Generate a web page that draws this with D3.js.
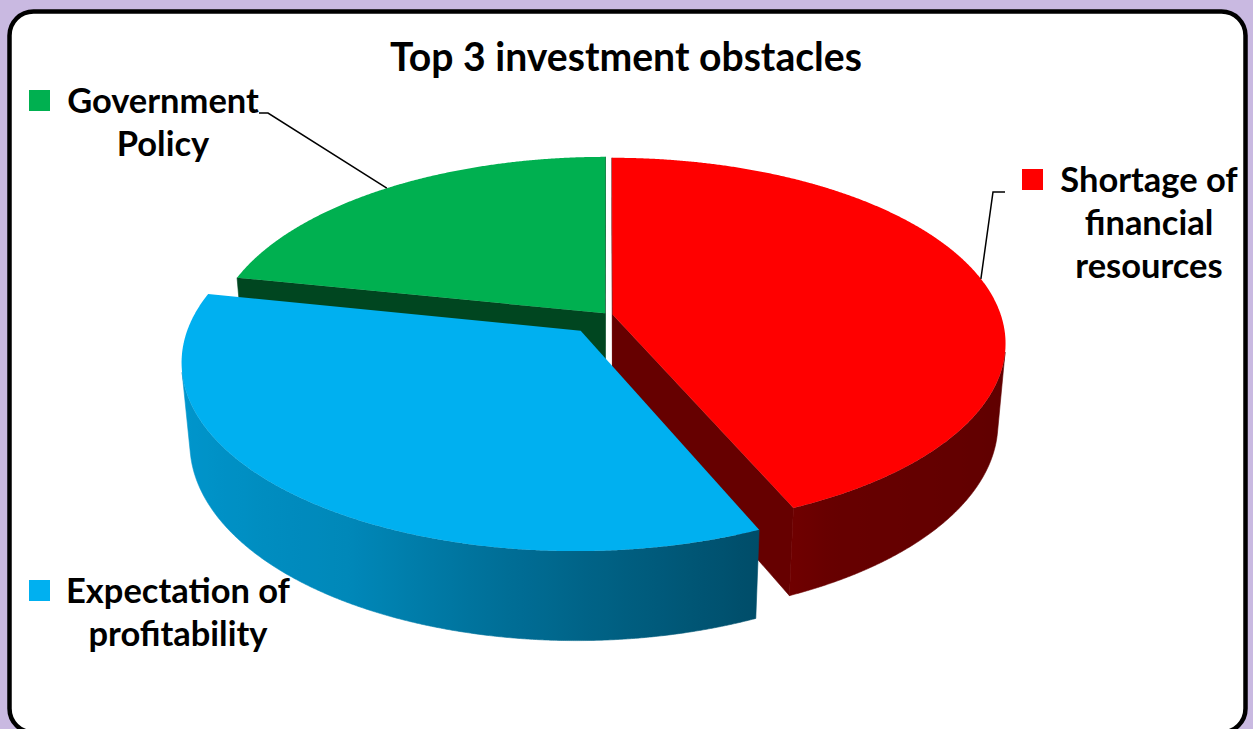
<!DOCTYPE html>
<html>
<head>
<meta charset="utf-8">
<script src="https://cdn.jsdelivr.net/npm/d3@7"></script>
<style>
  html, body { margin: 0; padding: 0; background: #c9b9e1; }
  svg { display: block; }
</style>
</head>
<body>
<svg id="chart" width="1253" height="729"></svg>
<script>
// ---- data ----
const title = "Top 3 investment obstacles";
const categories = ["Shortage of financial resources", "Expectation of profitability", "Government Policy"];
const values = [20, 16, 10];
const labelLines = [["Shortage of", "financial", "resources"], ["Expectation of", "profitability"], ["Government", "Policy"]];
const colors = ["#FF0000", "#00B0F0", "#00B050"];

// ---- 3D view (unit-radius pie, x right, y away from viewer, z up) ----
const view = { cx: 608, cy: 315, focal: 2225, dist: 5.73, tilt: 27.8 * Math.PI / 180, height: 0.235 };
const explode = [0.012, 0.11, 0.012];

// label placement: legend square, centre of text block, first baseline, leader start
const labelLayout = [
  { sq: [1022, 169], cx: 1149, y: 192, leader: [[1005, 192], [993, 192]] },
  { sq: [29, 580], cx: 178, y: 603, leader: null },
  { sq: [29, 90], cx: 163, y: 113, leader: [[259, 113], [268, 113]] }
];
const fontFamily = "Lato, 'Open Sans', sans-serif";
const lineHeight = 43;

const W = 1253, H = 729;
const svg = d3.select("#chart");
const defs = svg.append("defs");

// frame
svg.append("rect").attr("width", W).attr("height", H).attr("fill", "#c9b9e1");
svg.append("rect")
  .attr("x", 9.5).attr("y", 11.5).attr("width", 1236).attr("height", 721).attr("rx", 24)
  .attr("fill", "#ffffff").attr("stroke", "#000").attr("stroke-width", 4.5);

const cosT = Math.cos(view.tilt), sinT = Math.sin(view.tilt);
const cam = [0, -view.dist * cosT, view.dist * sinT];
function project(p) {
  const [x, y, z] = p;
  const d = view.dist + y * cosT - z * sinT;
  return [view.cx + view.focal * x / d, view.cy - view.focal * (y * sinT + z * cosT) / d];
}
function depth(p) { return view.dist + p[1] * cosT - p[2] * sinT; }

const arcs = d3.pie().sort(null).value(d => d).startAngle(0).endAngle(2 * Math.PI)(values);
const slices = arcs.map((a, i) => {
  const mid = (a.startAngle + a.endAngle) / 2;
  return { i, a0: a.startAngle, a1: a.endAngle, mid,
           ox: explode[i] * Math.sin(mid), oy: explode[i] * Math.cos(mid) };
});

function rim(s, a, z) { return [s.ox + Math.sin(a), s.oy + Math.cos(a), z]; }
function centre(s, z) { return [s.ox, s.oy, z]; }
function sampleAngles(from, to, step) {
  const n = Math.max(1, Math.ceil(Math.abs(to - from) / step));
  return d3.range(n + 1).map(k => from + (to - from) * k / n);
}
const STEP = Math.PI / 720;
const zb = -view.height;

// brightness of the outer wall by the angle of its normal (degrees, clockwise from back)
const shade = d3.scaleLinear()
  .domain([90, 150, 180, 210, 240, 270])
  .range([0.37, 0.40, 0.57, 0.77, 0.83, 0.87])
  .clamp(true);
const radialShade = 0.4;
function darken(c, f) { const r = d3.rgb(c); return d3.rgb(r.r * f, r.g * f, r.b * f).formatHex(); }

const line = d3.line();
const walls = [];

slices.forEach(s => {
  const col = colors[s.i];
  // radial walls at the start and end edge
  [[s.a0, s.a0 - Math.PI / 2], [s.a1, s.a1 + Math.PI / 2]].forEach(([a, na]) => {
    const n = [Math.sin(na), Math.cos(na)];
    const c = centre(s, 0);
    const facing = n[0] * (cam[0] - c[0]) + n[1] * (cam[1] - c[1]);
    if (facing <= 0) return;
    const pts3 = [centre(s, 0), rim(s, a, 0), rim(s, a, zb), centre(s, zb)];
    const d = d3.mean(pts3, depth);
    walls.push({ d, path: line(pts3.map(project)) + "Z", fill: darken(col, radialShade) });
  });
  // outer curved wall, only the part facing the camera
  const vis = sampleAngles(s.a0, s.a1, STEP).filter(a => {
    const p = rim(s, a, 0);
    return Math.sin(a) * (cam[0] - p[0]) + Math.cos(a) * (cam[1] - p[1]) > 0;
  });
  if (vis.length > 1) {
    const top = vis.map(a => project(rim(s, a, 0)));
    const bot = vis.slice().reverse().map(a => project(rim(s, a, zb)));
    const midA = vis[Math.floor(vis.length / 2)];
    const d = depth(rim(s, midA, zb / 2));
    // horizontal gradient following the wall's shading
    const samples = sampleAngles(vis[0], vis[vis.length - 1], Math.PI / 72)
      .map(a => ({ x: project(rim(s, a, zb / 2))[0], f: shade(a * 180 / Math.PI) }));
    const xs = d3.extent(samples, d => d.x);
    const gid = "wall" + s.i;
    const g = defs.append("linearGradient").attr("id", gid)
      .attr("gradientUnits", "userSpaceOnUse")
      .attr("x1", xs[0]).attr("x2", xs[1]).attr("y1", 0).attr("y2", 0);
    samples.sort((a, b) => a.x - b.x).forEach(p => {
      g.append("stop").attr("offset", xs[1] > xs[0] ? (p.x - xs[0]) / (xs[1] - xs[0]) : 0)
        .attr("stop-color", darken(col, p.f));
    });
    walls.push({ d, path: line(top.concat(bot)) + "Z", fill: `url(#${gid})` });
  }
});

const pieG = svg.append("g");
walls.sort((a, b) => b.d - a.d).forEach(w => {
  pieG.append("path").attr("d", w.path).attr("fill", w.fill).attr("stroke", w.fill).attr("stroke-width", 0.6);
});

// top faces
slices.forEach(s => {
  const pts = [project(centre(s, 0))].concat(sampleAngles(s.a0, s.a1, STEP).map(a => project(rim(s, a, 0))));
  pieG.append("path").attr("d", line(pts) + "Z").attr("fill", colors[s.i]);
});

// ---- text ----
function fitSize(text, target) {
  const t = svg.append("text").attr("font-family", fontFamily).attr("font-weight", 700)
    .attr("font-size", 100).text(text);
  const w = t.node().getComputedTextLength();
  t.remove();
  return 100 * target / w;
}

svg.append("text")
  .attr("x", 626).attr("y", 71)
  .attr("text-anchor", "middle")
  .attr("font-family", fontFamily).attr("font-weight", 700)
  .attr("font-size", fitSize(title, 472))
  .attr("fill", "#000")
  .text(title);

const labelSize = fitSize(labelLines[1][0], 224);

slices.forEach(s => {
  const L = labelLayout[s.i];
  const lg = svg.append("g").attr("class", "label");
  lg.append("rect").attr("x", L.sq[0]).attr("y", L.sq[1]).attr("width", 21).attr("height", 21)
    .attr("fill", colors[s.i]);
  const t = lg.append("text").attr("text-anchor", "middle")
    .attr("font-family", fontFamily).attr("font-weight", 700)
    .attr("font-size", labelSize).attr("fill", "#000");
  labelLines[s.i].forEach((ln, k) => {
    t.append("tspan").attr("x", L.cx).attr("y", L.y + k * lineHeight).text(ln);
  });
  if (L.leader) {
    const end = project(rim(s, s.mid, 0));
    lg.append("path").attr("d", line(L.leader.concat([end])))
      .attr("fill", "none").attr("stroke", "#000").attr("stroke-width", 1.5);
  }
});
</script>
</body>
</html>
